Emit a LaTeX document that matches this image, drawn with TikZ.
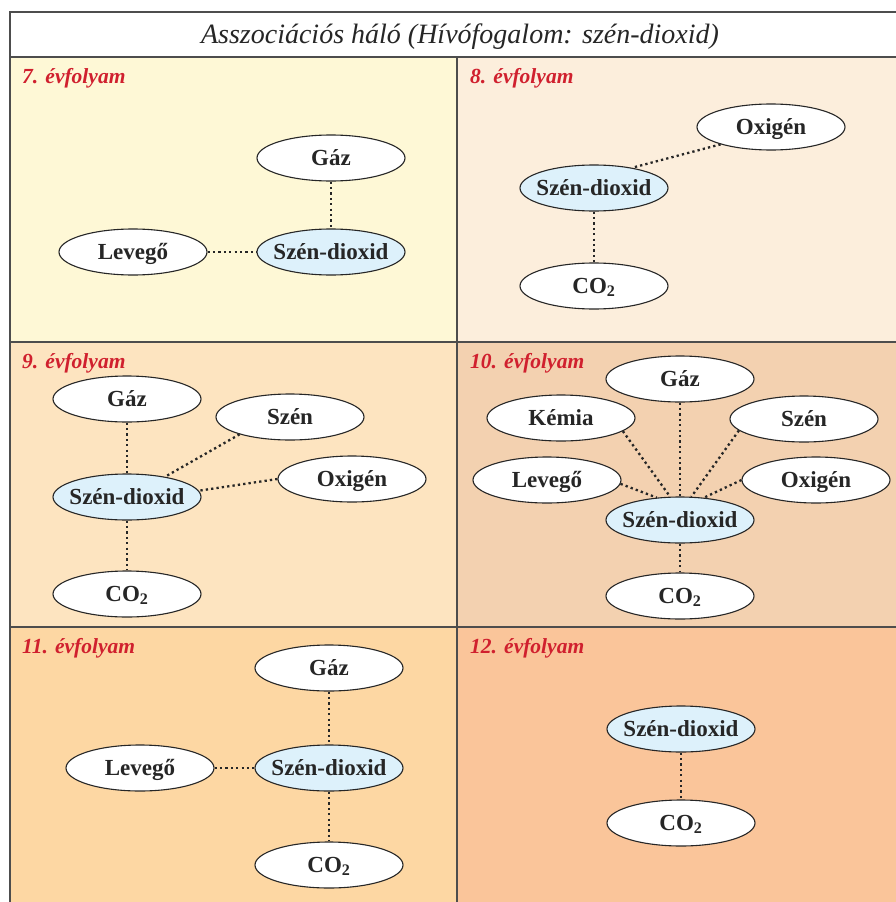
\documentclass[tikz,border=0pt]{standalone}
\usepackage{fontspec}
\setmainfont{Liberation Serif}
\usetikzlibrary{shapes.geometric}
\definecolor{cseven}{HTML}{FEF8D6}
\definecolor{ceight}{HTML}{FCEEDC}
\definecolor{cnine}{HTML}{FDE4C0}
\definecolor{cten}{HTML}{F3D1B0}
\definecolor{celeven}{HTML}{FDD7A3}
\definecolor{ctwelve}{HTML}{FAC59A}
\definecolor{cblue}{HTML}{DDF1FB}
\definecolor{cred}{HTML}{D0202E}
\definecolor{cgrid}{HTML}{4D4D4D}
\newcommand\nt[1]{\makebox[0pt][c]{#1}}
\tikzset{
  bub/.style={ellipse, draw=black!85, line width=1.1pt, fill=white,
    minimum width=148pt, minimum height=46pt, inner sep=0pt,
    text height=17pt, text depth=3pt,
    font=\fontsize{23}{27}\selectfont\bfseries, text=black!85},
  core/.style={bub, fill=cblue},
  link/.style={line width=2.3pt, dash pattern=on 2.3pt off 3.1pt, black!85},
  grade/.style={anchor=base west, inner sep=0pt, text=cred,
    font=\fontsize{21.5}{25}\selectfont\bfseries\itshape},
  gridline/.style={draw=cgrid, line width=1.5pt}
}
\begin{document}
\begin{tikzpicture}[x=1pt,y=-1pt]
\useasboundingbox (0,0) rectangle (896,902);
% cell backgrounds
\fill[white] (10,12) rectangle (896,57);
\fill[cseven] (10,57) rectangle (457,342);
\fill[ceight] (457,57) rectangle (896,342);
\fill[cnine] (10,342) rectangle (457,627);
\fill[cten] (457,342) rectangle (896,627);
\fill[celeven] (10,627) rectangle (457,902);
\fill[ctwelve] (457,627) rectangle (896,902);
% grid
\draw[gridline] (10,902) -- (10,12) -- (896,12);
\draw[gridline] (10,57) -- (896,57);
\draw[gridline] (10,342) -- (896,342);
\draw[gridline] (10,627) -- (896,627);
\draw[gridline] (457,57) -- (457,902);
% title
\node[anchor=base, inner sep=0pt, font=\fontsize{28}{32}\selectfont\itshape, text=black!85] (title) at (460,43) {Asszociációs háló (Hívófogalom: szén-dioxid)};
% grade labels
\node[grade] (g7) at (22,83) {7. évfolyam};
\node[grade] (g8) at (470,83) {8. évfolyam};
\node[grade] (g9) at (22,368) {9. évfolyam};
\node[grade] (g10) at (470,368) {10. évfolyam};
\node[grade] (g11) at (22,653) {11. évfolyam};
\node[grade] (g12) at (470,653) {12. évfolyam};
% cell 7
\node[bub] (a7gaz) at (331,158) {\nt{Gáz}};
\node[core] (a7szd) at (331,252) {\nt{Szén-dioxid}};
\node[bub] (a7lev) at (133,252) {\nt{Levegő}};
\draw[link] (a7gaz.south) -- (a7szd.north);
\draw[link] (a7lev.east) -- (a7szd.west);
% cell 8
\node[bub] (a8oxi) at (771,127) {\nt{Oxigén}};
\node[core] (a8szd) at (594,188) {\nt{Szén-dioxid}};
\node[bub] (a8co) at (594,286) {\nt{CO\textsubscript{2}}};
\draw[link] (a8oxi.199) -- (a8szd.28);
\draw[link] (a8szd.south) -- (a8co.north);
% cell 9
\node[bub] (a9gaz) at (127,399) {\nt{Gáz}};
\node[bub] (a9szen) at (290,417) {\nt{Szén}};
\node[bub] (a9oxi) at (352,479) {\nt{Oxigén}};
\node[core] (a9szd) at (127,497) {\nt{Szén-dioxid}};
\node[bub] (a9co) at (127,594) {\nt{CO\textsubscript{2}}};
\draw[link] (a9gaz.south) -- (a9szd.north);
\draw[link] (a9szen.199) -- (a9szd.28);
\draw[link] (a9oxi.180) -- (a9szd.5);
\draw[link] (a9szd.south) -- (a9co.north);
% cell 10
\node[bub] (a10gaz) at (680,379) {\nt{Gáz}};
\node[bub] (a10kem) at (561,418) {\nt{Kémia}};
\node[bub] (a10szen) at (804,419) {\nt{Szén}};
\node[bub] (a10lev) at (547,480) {\nt{Levegő}};
\node[bub] (a10oxi) at (816,480) {\nt{Oxigén}};
\node[core] (a10szd) at (680,520) {\nt{Szén-dioxid}};
\node[bub] (a10co) at (680,596) {\nt{CO\textsubscript{2}}};
\draw[link] (a10kem.-12) -- (a10szd.113);
\draw[link] (a10gaz.south) -- (a10szd.north);
\draw[link] (a10szen.190) -- (a10szd.64);
\draw[link] (a10lev.-3) -- (a10szd.136);
\draw[link] (a10oxi.180) -- (a10szd.43);
\draw[link] (a10szd.south) -- (a10co.north);
% cell 11
\node[bub] (a11gaz) at (329,668) {\nt{Gáz}};
\node[core] (a11szd) at (329,768) {\nt{Szén-dioxid}};
\node[bub] (a11lev) at (140,768) {\nt{Levegő}};
\node[bub] (a11co) at (329,865) {\nt{CO\textsubscript{2}}};
\draw[link] (a11gaz.south) -- (a11szd.north);
\draw[link] (a11lev.east) -- (a11szd.west);
\draw[link] (a11szd.south) -- (a11co.north);
% cell 12
\node[core] (a12szd) at (681,729) {\nt{Szén-dioxid}};
\node[bub] (a12co) at (681,823) {\nt{CO\textsubscript{2}}};
\draw[link] (a12szd.south) -- (a12co.north);
\end{tikzpicture}
\end{document}
